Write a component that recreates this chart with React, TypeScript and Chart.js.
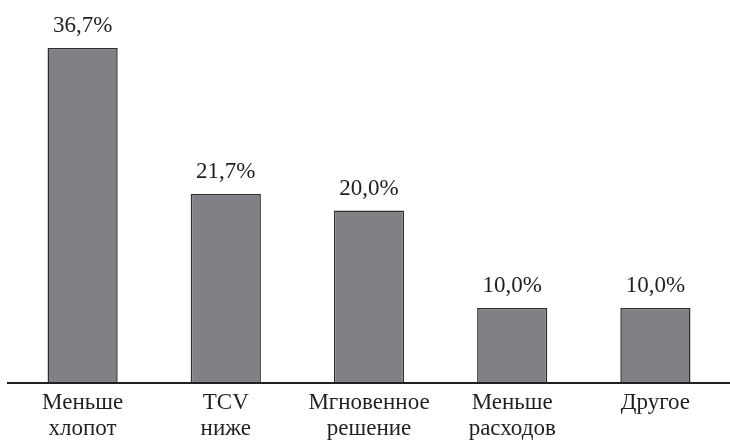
import React, { useEffect, useRef } from "react";
import { Chart, registerables } from "chart.js";

Chart.register(...registerables);

const categories: string[][] = [
  ["Меньше", "хлопот"],
  ["TCV", "ниже"],
  ["Мгновенное", "решение"],
  ["Меньше", "расходов"],
  ["Другое"],
];
const values: number[] = [36.7, 21.7, 20.0, 10.0, 10.0];
const valueLabels: string[] = ["36,7%", "21,7%", "20,0%", "10,0%", "10,0%"];

const FONT = "'Liberation Serif', 'Times New Roman', serif";

const valueLabelPlugin = {
  id: "valueLabels",
  afterDatasetsDraw(chart: any) {
    const ctx = chart.ctx;
    const meta = chart.getDatasetMeta(0);
    ctx.save();
    ctx.font = `23px ${FONT}`;
    ctx.fillStyle = "#231f20";
    ctx.textAlign = "center";
    ctx.textBaseline = "alphabetic";
    meta.data.forEach((bar: any, i: number) => {
      ctx.fillText(valueLabels[i], bar.x, bar.y - 16);
    });
    ctx.restore();
  },
};

const axisLinePlugin = {
  id: "axisLine",
  afterDraw(chart: any) {
    const ctx = chart.ctx;
    const { left, bottom } = chart.chartArea;
    ctx.save();
    ctx.strokeStyle = "#231f20";
    ctx.lineWidth = 2;
    ctx.beginPath();
    ctx.moveTo(left - 4, bottom);
    ctx.lineTo(chart.width, bottom);
    ctx.stroke();
    ctx.restore();
  },
};

export default function App() {
  const ref = useRef<HTMLCanvasElement | null>(null);
  useEffect(() => {
    if (!ref.current) return;
    const chart = new Chart(ref.current, {
      type: "bar",
      data: {
        labels: categories as any,
        datasets: [
          {
            data: values,
            backgroundColor: "#808185",
            borderColor: "#2e2e30",
            borderWidth: 1.5,
            barPercentage: 0.49,
            categoryPercentage: 1,
          },
        ],
      },
      options: {
        animation: false,
        responsive: false,
        maintainAspectRatio: false,
        layout: { padding: { left: 11, right: 3, top: 10, bottom: 0 } },
        plugins: {
          legend: { display: false },
          tooltip: { enabled: false },
        },
        scales: {
          x: {
            grid: { display: false, drawTicks: false },
            border: { display: false },
            afterFit: (scale: any) => {
              scale.height = 57;
            },
            ticks: {
              color: "#231f20",
              font: { family: FONT, size: 23, lineHeight: 1.13 },
              padding: 7,
              maxRotation: 0,
              autoSkip: false,
            },
          },
          y: {
            display: false,
            min: 2.3,
            max: 40.6,
          },
        },
      },
      plugins: [valueLabelPlugin, axisLinePlugin],
    });
    return () => chart.destroy();
  }, []);
  return (
    <div style={{ position: "absolute", left: 0, top: 0, width: 730, height: 440 }}>
      <canvas ref={ref} width={730} height={440} style={{ width: 730, height: 440 }} />
    </div>
  );
}
